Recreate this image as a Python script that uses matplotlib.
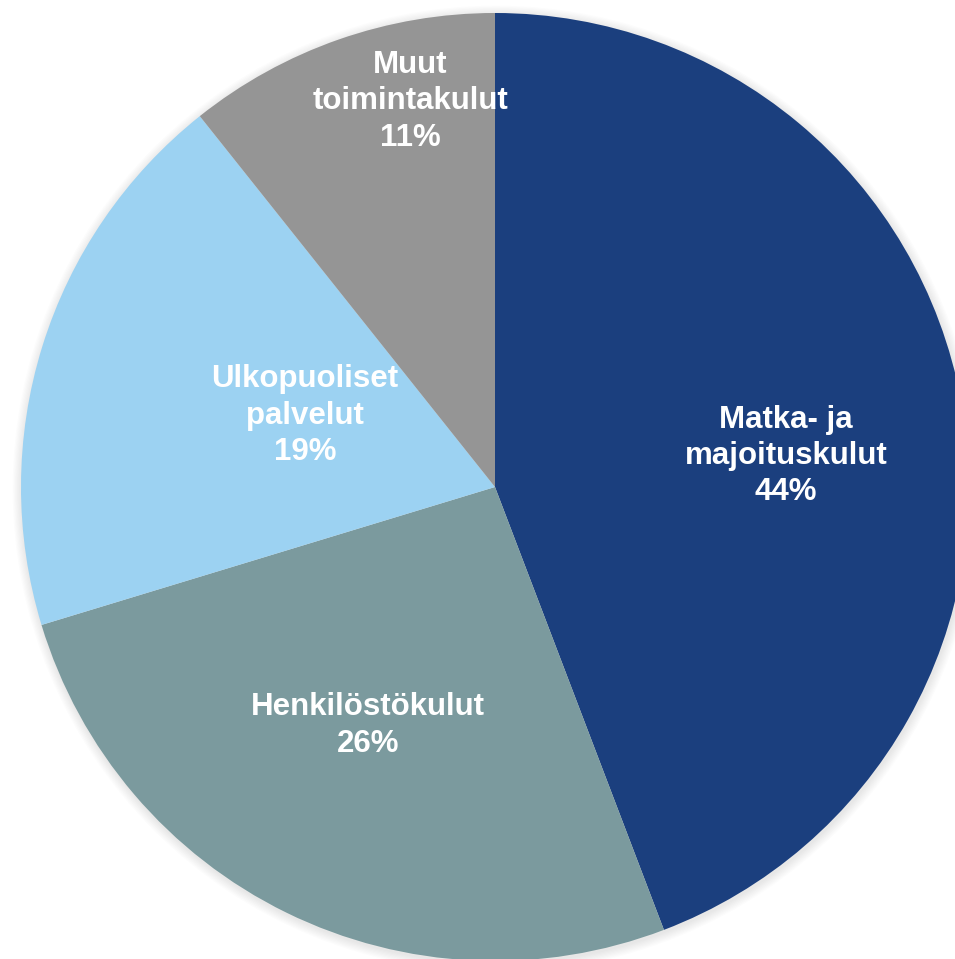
import numpy as np
import matplotlib.pyplot as plt
from matplotlib.patches import Circle

# Kulujen jakauma
categories = ['Matka- ja\nmajoituskulut', 'Henkilöstökulut', 'Ulkopuoliset\npalvelut', 'Muut\ntoimintakulut']
shares = [44.2, 26.1, 19.0, 10.7]
colors = ['#1B3F7E', '#7B9A9E', '#9CD2F2', '#959595']
# label placement tweaks (fraction of radius, angle nudge in degrees, pixel shift)
label_dist = [0.62, 0.565, 0.43, 0.84]
label_nudge = [-3.6, -3.6, -5.3, -8.2]
label_shift = [(-1, -4), (6, -6), (-2, -7), (-8, -5)]

W, H = 955, 959
fig = plt.figure(figsize=(W / 100, H / 100), dpi=100)
ax = fig.add_axes([0, 0, 1, 1])

cx, cy, r = 495, H - 487, 474

# soft shadow round the pie
for i in range(8):
  ax.add_patch(Circle((cx + 1, cy - 2), r + 1 + i * 1.2, color='black', alpha=0.012, lw=0, zorder=0))

wedges, _ = ax.pie(shares, colors=colors, startangle=90, counterclock=False,
                   center=(cx, cy), radius=r, frame=True,
                   wedgeprops=dict(linewidth=0))
ax.set_xlim(0, W)
ax.set_ylim(0, H)
ax.set_aspect('equal')
ax.axis('off')

for w, cat, val, d, nudge, (sx, sy) in zip(wedges, categories, shares, label_dist, label_nudge, label_shift):
  ang = np.radians((w.theta1 + w.theta2) / 2 + nudge)
  x = cx + d * r * np.cos(ang) + sx
  y = cy + d * r * np.sin(ang) + sy
  ax.text(x, y, f'{cat}\n{round(val)}%', ha='center', va='center', color='white',
          fontsize=22.5, fontweight='bold', family='Liberation Sans', linespacing=1.28)

plt.savefig('out.png', dpi=100)
plt.close()
